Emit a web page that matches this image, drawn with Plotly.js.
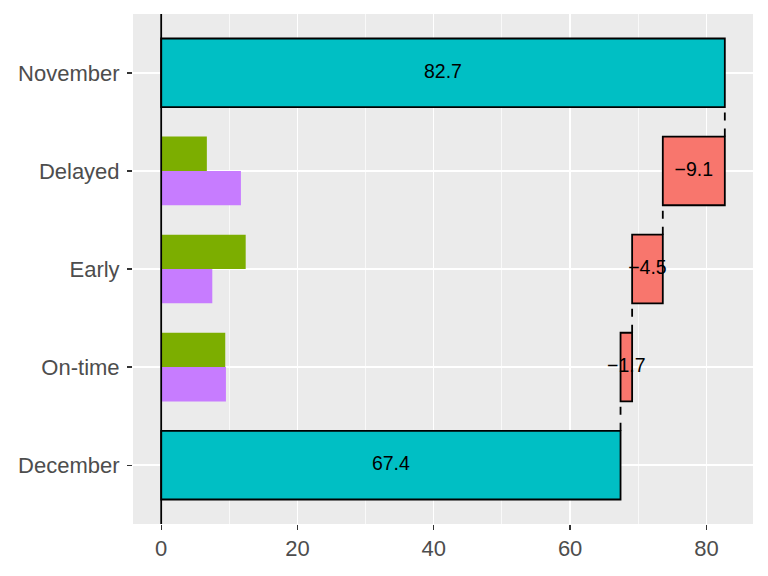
<!DOCTYPE html>
<html>
<head>
<meta charset="utf-8">
<script src="https://cdn.plot.ly/plotly-3.0.1.min.js"></script>
<style>html,body{margin:0;padding:0;background:#fff;}#chart{width:768px;height:576px;}</style>
</head>
<body>
<div id="chart"></div>
<script>
// ---- data ----
const categories = ['November', 'Delayed', 'Early', 'On-time', 'December'];
const startValue = 82.7;                 // November
const changes = [-9.1, -4.5, -1.7];      // Delayed, Early, On-time
const changeCategories = ['Delayed', 'Early', 'On-time'];
const greenValues = [6.7, 12.4, 9.4];    // Delayed, Early, On-time
const purpleValues = [11.7, 7.5, 9.5];   // Delayed, Early, On-time
const xTicks = [0, 20, 40, 60, 80];

// ---- helpers ----
const pos = c => categories.length - 1 - categories.indexOf(c);
const fmt = v => v.toFixed(1).replace('-', '\u2212');

const TEAL = '#00BFC4', RED = '#F8766D', GREEN = '#7CAE00', PURPLE = '#C77CFF';
const FONT = 'Liberation Sans, Arial, sans-serif';
const HALF = 0.35;
const LW = 1.8;

// waterfall geometry from the data
const wfY = [], wfBase = [], wfX = [], wfColor = [], labX = [], labY = [], labT = [];
let cum = startValue;
wfY.push(pos('November')); wfBase.push(0); wfX.push(startValue); wfColor.push(TEAL);
labX.push(startValue / 2); labY.push(pos('November')); labT.push(fmt(startValue));
const connX = [], connY = [];
let prevPos = pos('November');
changes.forEach((d, i) => {
  const p = pos(changeCategories[i]);
  connX.push(cum, cum, null); connY.push(p + HALF, prevPos - HALF, null);
  wfY.push(p); wfBase.push(cum); wfX.push(d); wfColor.push(RED);
  labX.push(cum + d / 2); labY.push(p); labT.push(fmt(d));
  cum += d; prevPos = p;
});
const endValue = Math.round(cum * 10) / 10;
connX.push(cum, cum, null); connY.push(pos('December') + HALF, prevPos - HALF, null);
wfY.push(pos('December')); wfBase.push(0); wfX.push(endValue); wfColor.push(TEAL);
labX.push(endValue / 2); labY.push(pos('December')); labT.push(fmt(endValue));

const traces = [
  {
    type: 'bar', orientation: 'h',
    y: changeCategories.map(c => pos(c) + HALF / 2), x: greenValues,
    width: HALF, marker: {color: GREEN, line: {width: 0}}, hoverinfo: 'none'
  },
  {
    type: 'bar', orientation: 'h',
    y: changeCategories.map(c => pos(c) - HALF / 2), x: purpleValues,
    width: HALF, marker: {color: PURPLE, line: {width: 0}}, hoverinfo: 'none'
  },
  {
    type: 'bar', orientation: 'h',
    y: wfY, x: wfX, base: wfBase, width: 2 * HALF,
    marker: {color: wfColor, line: {color: '#000', width: LW}}, hoverinfo: 'none'
  },
  {
    type: 'scatter', mode: 'lines', x: connX, y: connY, connectgaps: false,
    line: {color: '#000', width: LW, dash: '8px,8px'}, hoverinfo: 'none'
  },
  {
    type: 'scatter', mode: 'text', x: labX, y: labY, text: labT,
    textposition: 'middle center',
    textfont: {family: FONT, size: 19.5, color: '#000'}, hoverinfo: 'none'
  }
];

const xmax = startValue;
const pad = xmax * 0.05;

const layout = {
  width: 768, height: 576,
  margin: {l: 133, r: 15, t: 14, b: 52, pad: 0},
  paper_bgcolor: '#FFFFFF', plot_bgcolor: '#EBEBEB',
  showlegend: false, barmode: 'overlay',
  font: {family: FONT},
  xaxis: {
    range: [0 - pad, xmax + pad],
    tickmode: 'array', tickvals: xTicks, ticktext: xTicks.map(String),
    showgrid: true, gridcolor: '#FFFFFF', gridwidth: 1.4,
    minor: {tickmode: 'array', tickvals: [10, 30, 50, 70], showgrid: true, gridcolor: '#FFFFFF', gridwidth: 0.7},
    zeroline: false, showline: false,
    ticks: 'outside', ticklen: 5, tickwidth: 1.3, tickcolor: '#333333',
    tickfont: {family: FONT, size: 22, color: '#4D4D4D'}
  },
  yaxis: {
    range: [-0.6, 4.6],
    tickmode: 'array', tickvals: categories.map(pos), ticktext: categories,
    showgrid: true, gridcolor: '#FFFFFF', gridwidth: 1.4,
    zeroline: false, showline: false,
    ticks: 'outside', ticklen: 5, tickwidth: 1.3, tickcolor: '#333333',
    ticklabelstandoff: 3,
    tickfont: {family: FONT, size: 22, color: '#4D4D4D'}
  },
  shapes: [{
    type: 'line', xref: 'x', yref: 'paper', x0: 0, x1: 0, y0: 0, y1: 1,
    line: {color: '#000', width: LW}, layer: 'above'
  }]
};

Plotly.newPlot('chart', traces, layout, {staticPlot: true, displayModeBar: false});
</script>
</body>
</html>
